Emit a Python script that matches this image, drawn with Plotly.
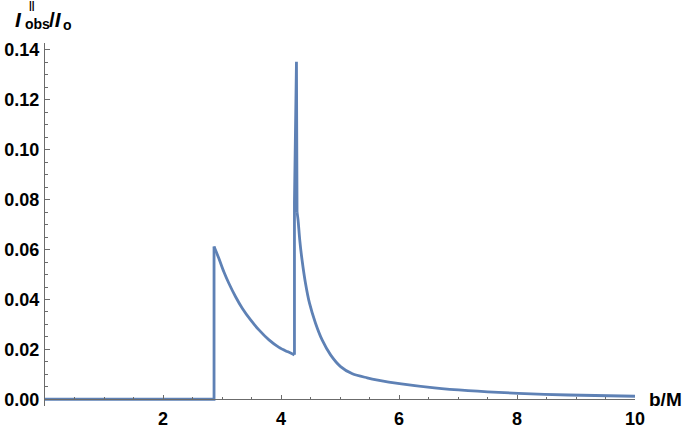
import plotly.graph_objects as go

# ---- data ----
# zero baseline inside the shadow
base_b = [0.0, 2.865]
base_I = [0.0, 0.0]
# direct-emission hump (between the two jumps)
inner_b = [2.865, 2.946, 3.031, 3.116, 3.23, 3.343, 3.485, 3.626, 3.796, 3.966, 4.108, 4.228]
inner_I = [0.0612, 0.0565, 0.0511, 0.0465, 0.0411, 0.0365, 0.0318, 0.0278, 0.0238, 0.0208, 0.0191, 0.0178]
# lensing / photon-ring spike
ring_b = [4.228, 4.262]
ring_I = [0.0790, 0.1353]
# outer tail
outer_b = [4.272, 4.289, 4.318, 4.357, 4.415, 4.483, 4.585, 4.697, 4.84, 5.01, 5.21, 5.46,
           5.64, 6.04, 6.60, 7.17, 8.02, 8.87, 10.0]
outer_I = [0.0750, 0.0719, 0.0638, 0.0558, 0.0465, 0.0385, 0.0305, 0.0238, 0.0178, 0.0131,
           0.0102, 0.0086, 0.0077, 0.0062, 0.0046, 0.0035, 0.0024, 0.0017, 0.0012]

x_ticks = [2, 4, 6, 8, 10]
x_tick_labels = ["2", "4", "6", "8", "10"]
y_ticks = [0.0, 0.02, 0.04, 0.06, 0.08, 0.10, 0.12, 0.14]
y_tick_labels = ["0.00", "0.02", "0.04", "0.06", "0.08", "0.10", "0.12", "0.14"]

# ---- layout geometry ----
W, H = 684, 428
L, R, T, B = 45, 49, 43, 22
plot_w = W - L - R
plot_h = H - T - B
y_range = [-0.0027, 0.1428]
x_range = [0, 10]

FONT = "Liberation Sans, Arial, sans-serif"
LINE_COLOR = "#5E81B5"
AXIS_COLOR = "#6b6b6b"
LW = 2.8


def px_to_paper(px, py):
    return (px - L) / plot_w, (H - B - py) / plot_h


fig = go.Figure()


def add_line(xs, ys, shape="linear"):
    fig.add_trace(go.Scatter(x=xs, y=ys, mode="lines",
                             line=dict(color=LINE_COLOR, width=LW, shape=shape,
                                       smoothing=0.8 if shape == "spline" else None),
                             hoverinfo="skip", showlegend=False))


# baseline + first jump
add_line(base_b + inner_b[:1], base_I + inner_I[:1])
# hump
add_line(inner_b, inner_I, "spline")
# second jump, spike, drop into the tail
add_line(inner_b[-1:] + ring_b + outer_b[:1], inner_I[-1:] + ring_I + outer_I[:1])
# tail
add_line(outer_b, outer_I, "spline")

x_axis_pos = (0 - y_range[0]) / (y_range[1] - y_range[0])

tick_font = dict(family=FONT, size=18, color="black", weight="bold")

fig.update_layout(
    width=W, height=H,
    margin=dict(l=L, r=R, t=T, b=B, autoexpand=False),
    paper_bgcolor="white", plot_bgcolor="white",
    font=dict(family=FONT, color="black"),
    xaxis=dict(
        range=x_range, showgrid=False, zeroline=False, automargin=False,
        showline=True, linecolor=AXIS_COLOR, linewidth=1,
        anchor="free", position=x_axis_pos,
        tickmode="array", tickvals=x_ticks, ticktext=x_tick_labels,
        ticks="inside", ticklen=4, tickcolor=AXIS_COLOR, tickwidth=1,
        tickfont=tick_font, ticklabelstandoff=3,
        minor=dict(ticks="inside", ticklen=2.5, tickcolor=AXIS_COLOR,
                   tickmode="linear", tick0=0, dtick=0.5, showgrid=False),
    ),
    yaxis=dict(
        range=y_range, showgrid=False, zeroline=False, automargin=False,
        showline=True, linecolor=AXIS_COLOR, linewidth=1,
        tickmode="array", tickvals=y_ticks, ticktext=y_tick_labels,
        ticks="inside", ticklen=5, tickcolor=AXIS_COLOR, tickwidth=1,
        tickfont=tick_font, ticklabelstandoff=1,
        minor=dict(ticks="inside", ticklen=3, tickcolor=AXIS_COLOR,
                   tickmode="linear", tick0=0, dtick=0.005, showgrid=False),
    ),
)


def add_text(text, px, py, size, xanchor="left", yanchor="middle"):
    xp, yp = px_to_paper(px, py)
    fig.add_annotation(text=text, x=xp, y=yp, xref="paper", yref="paper",
                       xanchor=xanchor, yanchor=yanchor, showarrow=False,
                       font=dict(family=FONT, size=size, color="black"))


add_text("<b>b/M</b>", 647, 399, 19)
add_text("<b><i>I</i></b>", 13, 20, 21)
add_text("<b>||</b>", 27, 6, 10)
add_text("<b>obs</b>", 23, 24, 14)
add_text("<b>/<i>I</i></b>", 47, 20, 21)
add_text("<b>o</b>", 61, 25, 14)

# remove the browser's default 8px body margin so the figure fills the window
fig.write_html("out.html",
               config={"displayModeBar": False, "staticPlot": True},
               post_script="document.body.style.margin='0';document.body.style.overflow='hidden';")
